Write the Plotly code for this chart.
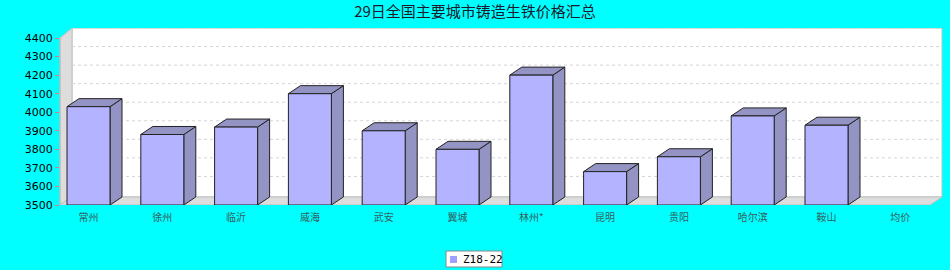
import plotly.graph_objects as go

categories = ["常州", "徐州", "临沂", "威海", "武安", "翼城", "林州*", "昆明", "贵阳", "哈尔滨", "鞍山", "均价"]
values = [4030, 3880, 3920, 4100, 3900, 3800, 4200, 3680, 3760, 3980, 3930, None]
y_ticks = [3500, 3600, 3700, 3800, 3900, 4000, 4100, 4200, 4300, 4400]
series_name = "Z18-22"
title_text = "29日全国主要城市铸造生铁价格汇总"

W, H = 950, 270
ML, MR, MT, MB = 60, 8, 28, 65
plot_w = W - ML - MR
plot_h = H - MT - MB

# geometry (pixels)
cat_px0 = 88.5 - ML
cat_step = 73.8
depth_x_px = 12
depth_y_px = 8
bar_half_px = 21.5

y_min = 3500
y_front_top = 4400
px_per_unit = 0.1848
dy = depth_y_px / px_per_unit
y_max = y_front_top + 10 / px_per_unit

x_min = -cat_px0 / cat_step
x_max = x_min + plot_w / cat_step
dx = depth_x_px / cat_step
hw = bar_half_px / cat_step

front_col = "#b3b3ff"
side_col = "#9393c4"
line_col = "#222222"

fig = go.Figure()

floor_front_right = (930 - ML) / plot_w
back_left = depth_x_px / plot_w
shapes = []
shapes.append(dict(type="path", xref="paper", yref="y",
                   path=f"M {back_left},{y_min+dy} L {back_left},{y_max} L 1,{y_max} L 1,{y_min+dy} Z",
                   fillcolor="white", line=dict(color="#b0c8c8", width=1), layer="below"))
shapes.append(dict(type="path", xref="paper", yref="y",
                   path=f"M 0,{y_min} L 0,{y_front_top} L {back_left},{y_max} L {back_left},{y_min+dy} Z",
                   fillcolor="#dddddd", line=dict(color="#c0c0c0", width=1), layer="below"))
shapes.append(dict(type="path", xref="paper", yref="y",
                   path=f"M 0,{y_min} L {floor_front_right},{y_min} L 1,{y_min+dy} L {back_left},{y_min+dy} Z",
                   fillcolor="#dddddd", line=dict(color="#c0c0c0", width=1), layer="below"))
for t in y_ticks:
    if t == y_min:
        continue
    shapes.append(dict(type="line", xref="paper", yref="y", x0=back_left, x1=1,
                       y0=t + 10 / px_per_unit, y1=t + 10 / px_per_unit,
                       line=dict(color="#d4d4d4", width=1, dash="3px,3px"), layer="below"))
shapes.append(dict(type="line", xref="paper", yref="y", x0=0, x1=0, y0=y_min, y1=y_front_top,
                   line=dict(color="#b8b8b8", width=1), layer="below"))

def px_x(p):
    return (p - ML) / plot_w

def px_y(p):
    return (H - MB - p) / plot_h

shapes.append(dict(type="rect", xref="paper", yref="paper",
                   x0=px_x(446), x1=px_x(502), y0=px_y(267), y1=px_y(251),
                   fillcolor="white", line=dict(color="#888888", width=1)))
shapes.append(dict(type="rect", xref="paper", yref="paper",
                   x0=px_x(450), x1=px_x(457), y0=px_y(263), y1=px_y(256),
                   fillcolor="#a0a0ff", line=dict(width=0)))
fig.update_layout(shapes=shapes)
fig.add_annotation(xref="paper", yref="paper", x=px_x(461), y=px_y(259), xanchor="left", yanchor="middle",
                   text=series_name, showarrow=False,
                   font=dict(size=11, family="DejaVu Sans Mono", color="#000"))

for i, v in enumerate(values):
    if v is None:
        continue
    xl, xr = i - hw, i + hw
    fig.add_trace(go.Scatter(x=[xr, xr + dx, xr + dx, xr, xr], y=[y_min, y_min + dy, v + dy, v, y_min],
                             fill="toself", fillcolor=side_col, mode="lines",
                             line=dict(color=line_col, width=1), showlegend=False, hoverinfo="skip"))
    fig.add_trace(go.Scatter(x=[xl, xr, xr + dx, xl + dx, xl], y=[v, v, v + dy, v + dy, v],
                             fill="toself", fillcolor=side_col, mode="lines",
                             line=dict(color=line_col, width=1), showlegend=False, hoverinfo="skip"))
    fig.add_trace(go.Scatter(x=[xl, xr, xr, xl, xl], y=[y_min, y_min, v, v, y_min],
                             fill="toself", fillcolor=front_col, mode="lines",
                             line=dict(color=line_col, width=1), showlegend=False, hoverinfo="skip"))

fig.update_layout(
    width=W, height=H,
    margin=dict(l=ML, r=MR, t=MT, b=MB, autoexpand=False),
    paper_bgcolor="#00ffff",
    plot_bgcolor="rgba(0,0,0,0)",
    showlegend=False,
    title=dict(text=title_text, x=0.5, xanchor="center", y=0.955, yanchor="middle",
               font=dict(size=15, color="#1a1a2a", family="Noto Sans CJK SC")),
    xaxis=dict(range=[x_min, x_max], tickmode="array", tickvals=list(range(len(categories))),
               ticktext=categories, showgrid=False, zeroline=False, showline=False,
               ticks="outside", ticklen=3, tickcolor="rgba(0,0,0,0)",
               tickfont=dict(size=10, color="#356060", family="Noto Sans CJK SC"), fixedrange=True),
    yaxis=dict(range=[y_min, y_max], tickmode="array", tickvals=y_ticks, showgrid=False,
               zeroline=False, showline=False, ticks="outside", ticklen=4, tickcolor="#d08080",
               tickfont=dict(size=11, color="#000000", family="DejaVu Sans"), fixedrange=True),
)

fig.write_html("out.html")
